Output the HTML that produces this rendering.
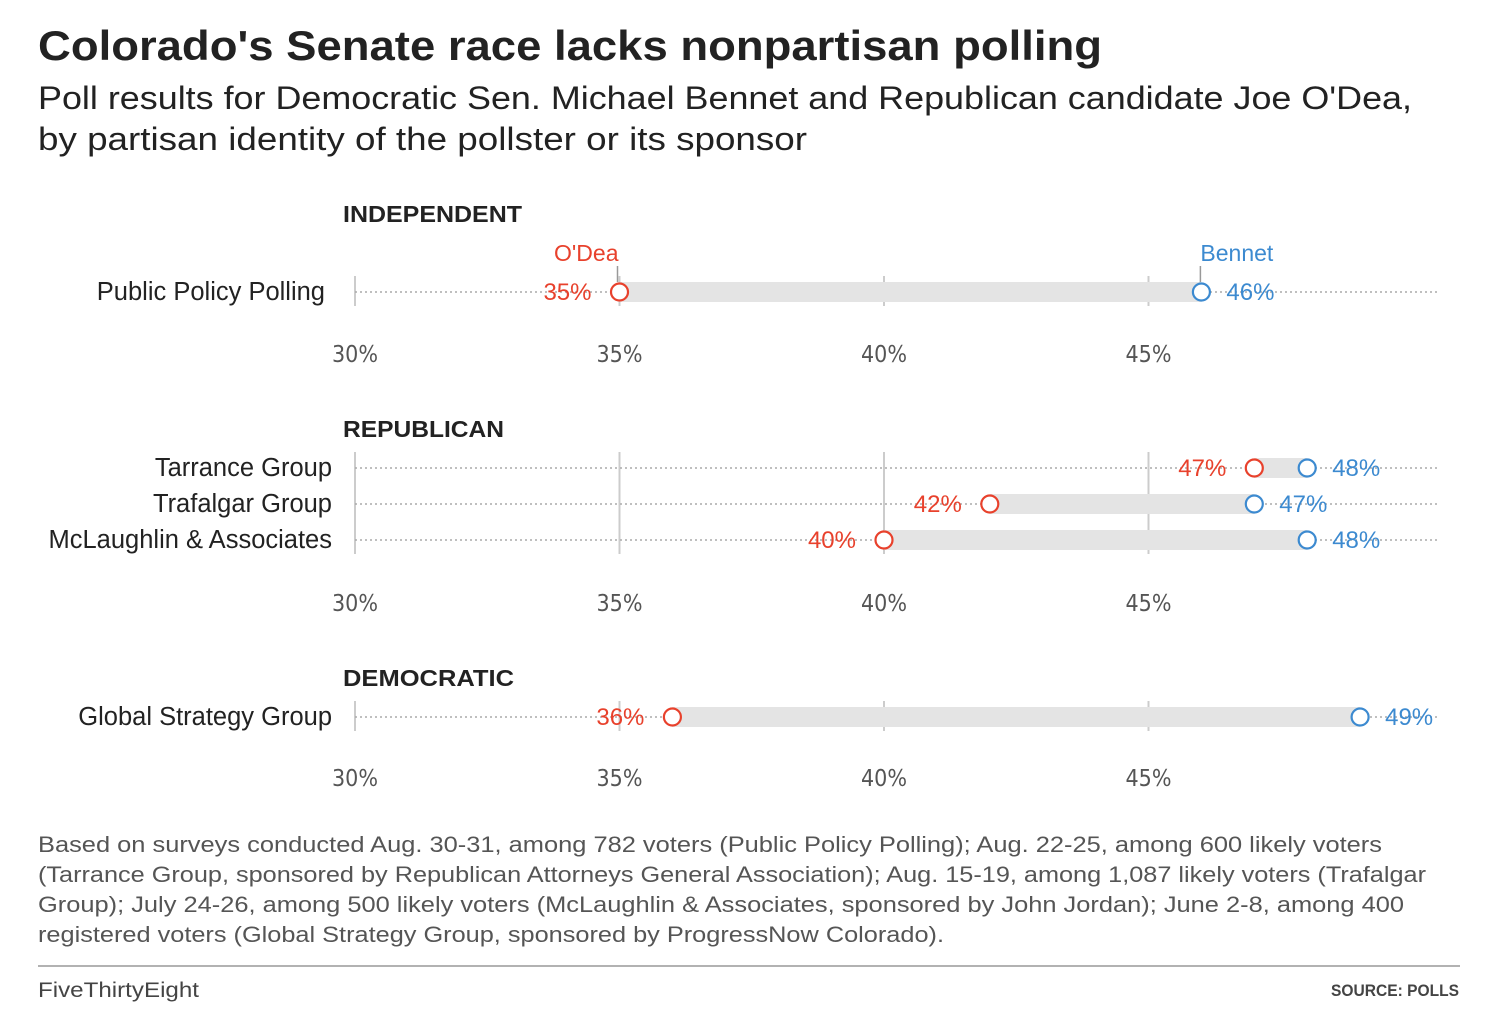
<!DOCTYPE html>
<html><head><meta charset="utf-8"><style>
body{margin:0;background:#fff;width:1500px;height:1018px;overflow:hidden;font-family:"Liberation Sans",sans-serif}
</style></head><body>
<svg id="c" width="1500" height="1018" xmlns="http://www.w3.org/2000/svg">
<text x="38" y="60" font-size="42" font-weight="bold" fill="#222" textLength="1064" lengthAdjust="spacingAndGlyphs">Colorado's Senate race lacks nonpartisan polling</text>
<text x="38" y="109" font-size="32" fill="#222" textLength="1374" lengthAdjust="spacingAndGlyphs">Poll results for Democratic Sen. Michael Bennet and Republican candidate Joe O'Dea,</text>
<text x="38" y="150" font-size="32" fill="#222" textLength="769" lengthAdjust="spacingAndGlyphs">by partisan identity of the pollster or its sponsor</text>
<g id="plots"></g>
<g font-size="22" fill="#555">
<text x="38" y="852" textLength="1344" lengthAdjust="spacingAndGlyphs">Based on surveys conducted Aug. 30-31, among 782 voters (Public Policy Polling); Aug. 22-25, among 600 likely voters</text>
<text x="38" y="882" textLength="1388" lengthAdjust="spacingAndGlyphs">(Tarrance Group, sponsored by Republican Attorneys General Association); Aug. 15-19, among 1,087 likely voters (Trafalgar</text>
<text x="38" y="912" textLength="1366" lengthAdjust="spacingAndGlyphs">Group); July 24-26, among 500 likely voters (McLaughlin &amp; Associates, sponsored by John Jordan); June 2-8, among 400</text>
<text x="38" y="942" textLength="906" lengthAdjust="spacingAndGlyphs">registered voters (Global Strategy Group, sponsored by ProgressNow Colorado).</text>
</g>
<line x1="38" x2="1460" y1="966" y2="966" stroke="#999" stroke-width="1.5"/>
<text x="38" y="997" font-size="21" fill="#444" textLength="161" lengthAdjust="spacingAndGlyphs">FiveThirtyEight</text>
<text x="1459" y="996" font-size="17" font-weight="bold" fill="#444" text-anchor="end" textLength="128" lengthAdjust="spacingAndGlyphs">SOURCE: POLLS</text>
</svg>
<script>
const groups=["INDEPENDENT","REPUBLICAN","DEMOCRATIC"];
const pollsters=[["Public Policy Polling"],["Tarrance Group","Trafalgar Group","McLaughlin & Associates"],["Global Strategy Group"]];
const odea=[[35],[47,42,40],[36]];
const bennet=[[46],[48,47,48],[49]];
const ticks=[30,35,40,45];
const tickLabels=["30%","35%","40%","45%"];
const layout=[{head:222,rows:[292],axis:362,labelX:325,hw:179},{head:437,rows:[468,504,540],axis:611,labelX:332,hw:161},{head:686,rows:[717],axis:786,labelX:332,hw:171}];
const NS="http://www.w3.org/2000/svg";
const x=v=>355+(v-30)*52.9;
const g=document.getElementById('plots');
function mk(t,a,txt){const e=document.createElementNS(NS,t);for(const k in a)e.setAttribute(k,a[k]);if(txt!==undefined)e.textContent=txt;g.appendChild(e);return e;}
const RED="#e8412c",BLUE="#3c8ad0";
groups.forEach((gn,gi)=>{
 const L=layout[gi];const r0=L.rows[0],r1=L.rows[L.rows.length-1];
 let h=mk('text',{x:343,y:L.head,'font-size':23,'font-weight':'bold',fill:'#222',textLength:L.hw,lengthAdjust:'spacingAndGlyphs'},gn);
 
 
 ticks.forEach((t,ti)=>{
  let l=mk('line',{x1:x(t),x2:x(t),y1:r0-16,y2:r1+14,stroke:'#ccc','stroke-width':2});
  
  
  let tl=mk('text',{x:x(t),y:L.axis,'font-size':23,fill:'#555','text-anchor':'middle','font-family':'DejaVu Sans Condensed, DejaVu Sans, sans-serif'},tickLabels[ti]);
  
  
 });
 pollsters[gi].forEach((p,pi)=>{
  const y=L.rows[pi],o=odea[gi][pi],b=bennet[gi][pi];
  let d=mk('line',{x1:355,x2:1437,y1:y,y2:y,stroke:'#aaa','stroke-width':1.5,'stroke-dasharray':'2 3'});
  
  
  let bar=mk('rect',{x:x(o),y:y-10,width:x(b)-x(o),height:20,fill:'#e4e4e4'});
  
  
  let lab=mk('text',{x:L.labelX,y:y+8,'font-size':25.5,fill:'#222','text-anchor':'end'},p);
  
  
  if(gi===0){
   let a=mk('line',{x1:x(o)-2,x2:x(o)-2,y1:y-26,y2:y-10,stroke:'#999','stroke-width':1.5});
   
   
   let at=mk('text',{x:x(o)-1,y:y-31,'font-size':23,fill:RED,'text-anchor':'end'},"O'Dea");
   
   
   let b2=mk('line',{x1:x(b)-1,x2:x(b)-1,y1:y-26,y2:y-10,stroke:'#999','stroke-width':1.5});
   
   
   let bt=mk('text',{x:x(b)-1,y:y-31,'font-size':23,fill:BLUE},"Bennet");
   
   
  }
  let oc=mk('circle',{cx:x(o),cy:y,r:8.5,fill:'#fff',stroke:RED,'stroke-width':2.2});
  
  
  let ot=mk('text',{x:x(o)-28,y:y+8,'font-size':24,fill:RED,'text-anchor':'end'},o+'%');
  
  
  let bc=mk('circle',{cx:x(b),cy:y,r:8.5,fill:'#fff',stroke:BLUE,'stroke-width':2.2});
  
  
  let btv=mk('text',{x:x(b)+25,y:y+8,'font-size':24,fill:BLUE},b+'%');
  
  
 });
});
</script>
</body></html>
